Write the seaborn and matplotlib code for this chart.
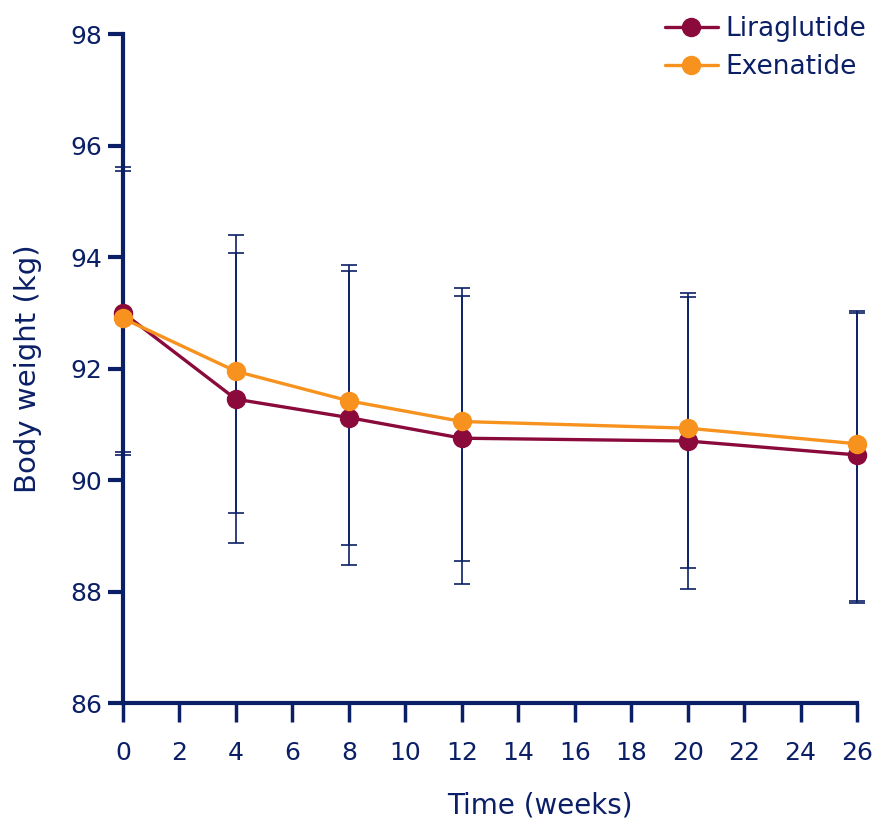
import numpy as np
import pandas as pd
import matplotlib
matplotlib.use('Agg')
import matplotlib.pyplot as plt
import seaborn as sns

weeks = [0, 4, 8, 12, 20, 26]
liraglutide = [93.0, 91.45, 91.12, 90.75, 90.7, 90.45]
exenatide = [92.9, 91.95, 91.42, 91.05, 90.93, 90.65]
lira_upper = [95.62, 94.08, 93.75, 93.3, 93.28, 93.03]
lira_lower = [90.45, 88.87, 88.47, 88.14, 88.04, 87.8]
exen_upper = [95.55, 94.39, 93.86, 93.45, 93.35, 93.0]
exen_lower = [90.5, 89.4, 88.83, 88.55, 88.42, 87.83]

navy = '#0b1f66'
colors = {'Liraglutide': '#8a0a3c', 'Exenatide': '#f7921e'}

df = pd.DataFrame({
    'week': weeks * 2,
    'weight': liraglutide + exenatide,
    'drug': ['Liraglutide'] * len(weeks) + ['Exenatide'] * len(weeks),
})

sns.set_style('white')
plt.rcParams['font.family'] = ['DejaVu Sans']

fig = plt.figure(figsize=(8.81, 8.26), dpi=100)
ax = fig.add_axes([0.1396, 0.1489, 0.8332, 0.8099])

# error bars first, lines go on top
for mean, up, lo in [(liraglutide, lira_upper, lira_lower), (exenatide, exen_upper, exen_lower)]:
    mean = np.array(mean)
    yerr = [mean - np.array(lo), np.array(up) - mean]
    ax.errorbar(weeks, mean, yerr=yerr, fmt='none', ecolor=navy, elinewidth=1.2,
                capsize=6, capthick=1.2, zorder=1, clip_on=False)

sns.lineplot(data=df, x='week', y='weight', hue='drug', palette=colors,
             marker='o', markersize=14, markeredgewidth=0, linewidth=2.4,
             ax=ax, zorder=3, clip_on=False)

ax.set_xlim(0, 26)
ax.set_ylim(86, 98)
ax.set_xticks(range(0, 27, 2))
ax.set_yticks(range(86, 99, 2))

for side in ['top', 'right']:
    ax.spines[side].set_visible(False)
for side in ['left', 'bottom']:
    ax.spines[side].set_color(navy)
    ax.spines[side].set_linewidth(3)

ax.tick_params(axis='y', direction='out', length=11, width=3, color=navy,
               labelcolor=navy, labelsize=18, pad=4, left=True)
ax.tick_params(axis='x', direction='out', length=14, width=2.5, color=navy,
               labelcolor=navy, labelsize=18, pad=13, bottom=True)

ax.set_xlabel('Time (weeks)', fontsize=20, color=navy)
ax.xaxis.set_label_coords(0.568, -0.132)
ax.set_ylabel('Body weight (kg)', fontsize=21, color=navy)
ax.yaxis.set_label_coords(-0.11, 0.5)

leg = ax.legend(loc='upper right', bbox_to_anchor=(1.045, 1.062), frameon=False,
                fontsize=19, handlelength=2.0, handletextpad=0.3, labelspacing=0.45)
for t in leg.get_texts():
    t.set_color(navy)

fig.savefig('out.png', dpi=100)
